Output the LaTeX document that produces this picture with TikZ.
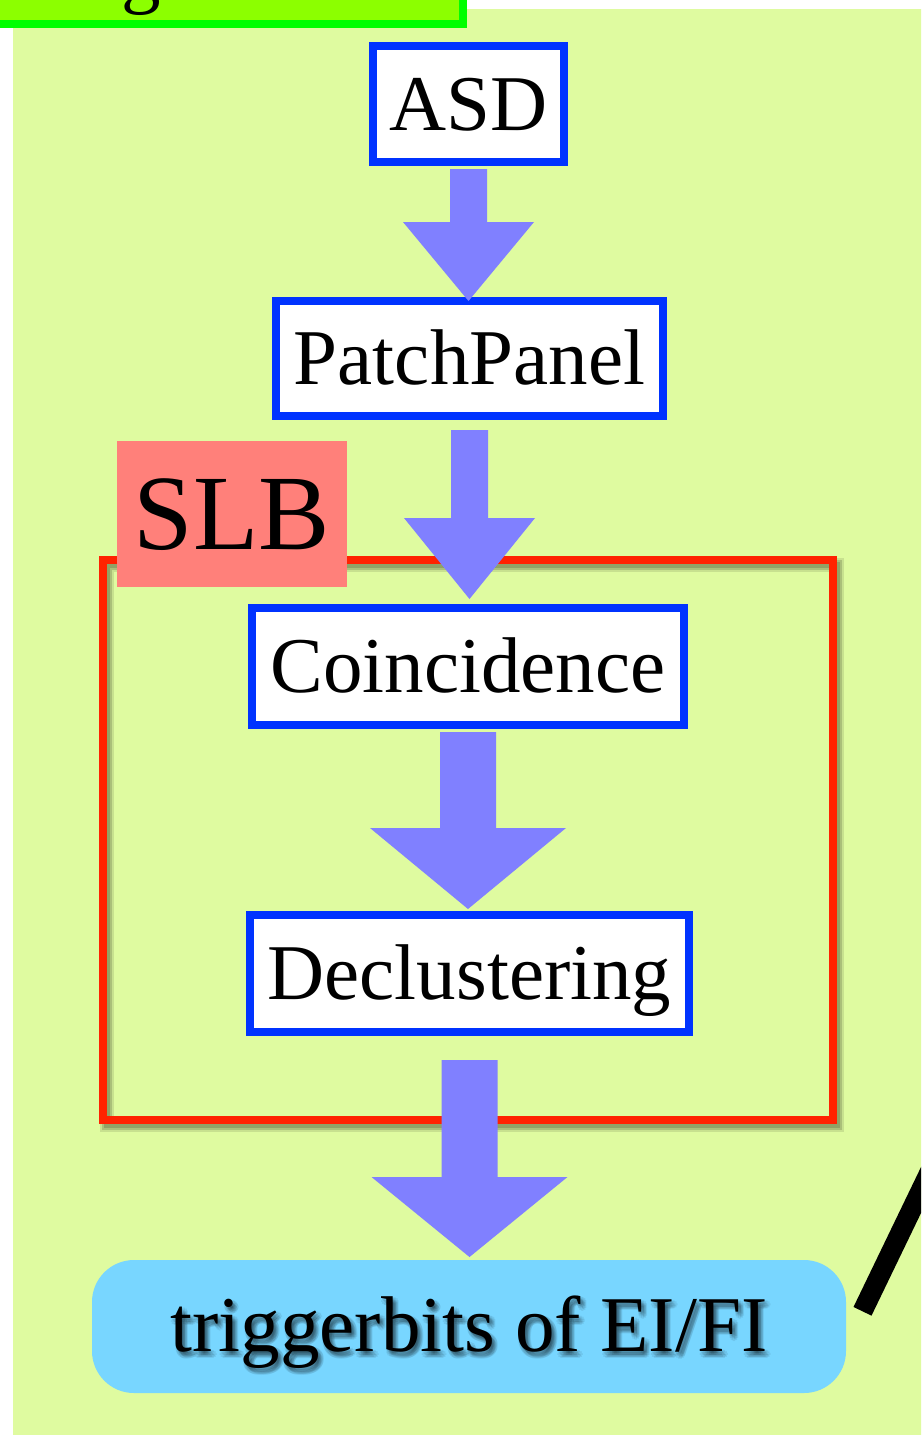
\documentclass[tikz,border=0pt]{standalone}
\usepackage{fontspec}
\setmainfont{Liberation Serif}
\usetikzlibrary{calc}
\definecolor{bggreen}{RGB}{223,251,160}
\definecolor{titlefill}{RGB}{140,255,0}
\definecolor{titleborder}{RGB}{0,255,0}
\definecolor{boxblue}{RGB}{0,51,255}
\definecolor{arrowblue}{RGB}{128,128,255}
\definecolor{slbred}{RGB}{255,34,0}
\definecolor{slbpink}{RGB}{255,128,122}
\definecolor{trigcyan}{RGB}{120,214,255}
% #1 from node, #2 to node, #3 start gap, #4 tip gap, #5 shaft half width, #6 head half width, #7 head length
\newcommand\blockarr[7]{%
  \fill[arrowfill] let \p1=(#1.south), \p2=(#2.north) in
   (\x1-#5,\y1-#3) -- (\x1+#5,\y1-#3) -- (\x1+#5,\y2+#4+#7) -- (\x1+#6,\y2+#4+#7)
   -- (\x1,\y2+#4) -- (\x1-#6,\y2+#4+#7) -- (\x1-#5,\y2+#4+#7) -- cycle;}
\tikzset{
  flowbox/.style={draw=boxblue, fill=white, line width=8pt, inner sep=0pt, outer sep=0pt,
    font=\fontsize{79}{90}\selectfont, text height=52pt, text depth=0pt},
  arrowfill/.style={fill=arrowblue},
  bigfont/.style={font=\fontsize{79}{90}\selectfont, text height=50pt, text depth=0pt, inner sep=0pt},
  blurshadow/.style={bigfont, text=black, opacity=0.07},
}
\begin{document}
\begin{tikzpicture}[x=1pt,y=-1pt]
\useasboundingbox (0,0) rectangle (921,1435);
\clip (0,0) rectangle (921,1435);
\fill[white] (0,0) rectangle (921,1435);
% background panel
\fill[bggreen] (13,9) rectangle (940,1450);
% title box (cut off at the top)
\draw[draw=titleborder, fill=titlefill, line width=8pt] (-10,-40) rectangle (463,24);
\node[anchor=base west, inner sep=0pt, font=\fontsize{79}{90}\selectfont] (titletext) at (121,-2) {g};
% SLB frame with shadow
\node[draw=slbred, line width=8pt, inner sep=0pt, outer sep=0pt, minimum width=730pt, minimum height=560pt] (slbframe) at (468,840) {};
\draw[black, opacity=0.10, line width=14pt] ($(slbframe.north west)+(4,5)$) rectangle ($(slbframe.south east)+(4,5)$);
\draw[black, opacity=0.15, line width=10pt] ($(slbframe.north west)+(4,5)$) rectangle ($(slbframe.south east)+(4,5)$);
\draw[black, opacity=0.15, line width=6pt] ($(slbframe.north west)+(4,5)$) rectangle ($(slbframe.south east)+(4,5)$);
\draw[slbred, line width=8pt] (slbframe.north west) rectangle (slbframe.south east);
% flow boxes
\node[flowbox, minimum width=191pt, minimum height=116pt] (asd) at (468.5,104) {ASD};
\node[flowbox, minimum width=387pt, minimum height=115pt] (patch) at (469.5,358.5) {PatchPanel};
\node[flowbox, minimum width=432pt, minimum height=117pt] (coinc) at (468,666.5) {Coincidence};
\node[flowbox, minimum width=439pt, minimum height=117pt] (declu) at (469.5,973.5) {Declustering};
\node[fill=trigcyan, rounded corners=42pt, inner sep=0pt, outer sep=0pt, minimum width=754pt, minimum height=133pt] (trig) at (469,1326.5) {};
% soft text shadow
\foreach \dx/\dy [count=\k] in {1/2,5/2,1/6,5/6,3/1,3/7,0/4,6/4,3/4,2/3,4/5} {
  \node[blurshadow] (trigshadow\k) at ($(trig.center)+(\dx,\dy)$) {triggerbits of EI/FI};
}
\node[bigfont] (trigtext) at (trig.center) {triggerbits of EI/FI};
% block arrows
\blockarr{asd}{patch}{7}{0}{18.5}{65.5}{79}
\blockarr{patch}{coinc}{14}{9}{18.5}{65.5}{81}
\blockarr{coinc}{declu}{7}{6}{28}{98}{81}
\blockarr{declu}{trig}{28}{3}{28}{98}{80}
% SLB label
\node[fill=slbpink, inner sep=0pt, minimum width=230pt, minimum height=146pt,
  font=\fontsize{107}{120}\selectfont, text height=71pt, text depth=0pt] (slb) at (232,514) {SLB};
% black line leaving the picture
\coordinate (linea) at (862.5,1311.3);
\coordinate (lineb) at (949.5,1131);
\draw[black, line width=20pt] (linea) -- (lineb);
\end{tikzpicture}
\end{document}
